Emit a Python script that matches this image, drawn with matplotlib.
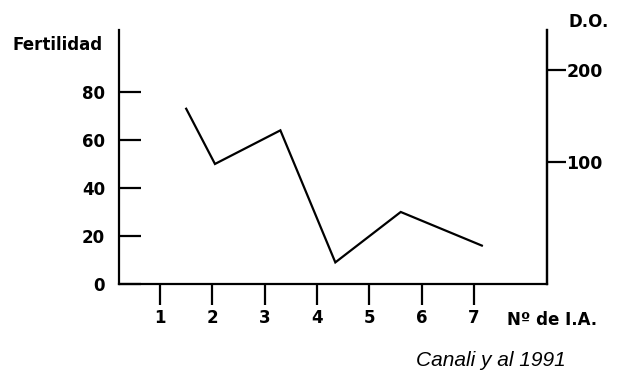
import matplotlib
matplotlib.use("Agg")
import matplotlib.pyplot as plt

# datos (Canali y al 1991)
n_ia = [1.5, 2.05, 3.3, 4.35, 5.6, 7.15]
fertilidad = [73, 50, 64, 9, 30, 16]
x_ticks = [1, 2, 3, 4, 5, 6, 7]
y_ticks = [0, 20, 40, 60, 80]
do_ticks = [100, 200]

W, H = 623, 371
fig = plt.figure(figsize=(W / 100, H / 100), dpi=100)
fig.patch.set_facecolor("white")

# posicion del eje en pixeles
x0, x1 = 119, 547
y0, y1 = 284, 30
ax = fig.add_axes([x0 / W, (H - y0) / H, (x1 - x0) / W, (y0 - y1) / H])

bold = dict(family="DejaVu Sans", weight="bold", color="black")

ax.plot(n_ia, fertilidad, color="black", lw=1.6, solid_joinstyle="miter")
ax.set_xlim(0.216, 8.395)
ax.set_ylim(0, 105.8)

ax.spines["top"].set_visible(False)
for s in ["left", "right", "bottom"]:
    ax.spines[s].set_linewidth(1.6)

ax.set_xticks(x_ticks)
ax.set_xticklabels([str(v) for v in x_ticks], fontsize=12, **bold)
ax.tick_params(axis="x", direction="out", length=15, width=1.6, pad=3)

ax.set_yticks(y_ticks)
ax.set_yticklabels([str(v) for v in y_ticks], fontsize=12, **bold)
ax.tick_params(axis="y", direction="in", length=16, width=1.6, pad=10)

ax2 = ax.twinx()
ax2.set_ylim(-32.6, 243.5)
ax2.set_yticks(do_ticks)
ax2.set_yticklabels([str(v) for v in do_ticks], fontsize=12.5, **bold)
ax2.tick_params(axis="y", direction="out", length=14, width=1.6, pad=0)
for s in ["top", "left", "bottom"]:
    ax2.spines[s].set_visible(False)
ax2.spines["right"].set_linewidth(1.6)

fig.text(103 / W, 1 - 45 / H, "Fertilidad", ha="right", va="center", fontsize=12, **bold)
fig.text(589 / W, 1 - 22 / H, "D.O.", ha="center", va="center", fontsize=12, **bold)
fig.text(507 / W, 1 - 320 / H, "Nº de I.A.", ha="left", va="center", fontsize=12, **bold)
fig.text(491 / W, 1 - 360 / H, "Canali y al 1991", ha="center", va="center",
         fontsize=15, family="Liberation Sans", style="italic", color="black")

fig.savefig("out.png", dpi=100)
